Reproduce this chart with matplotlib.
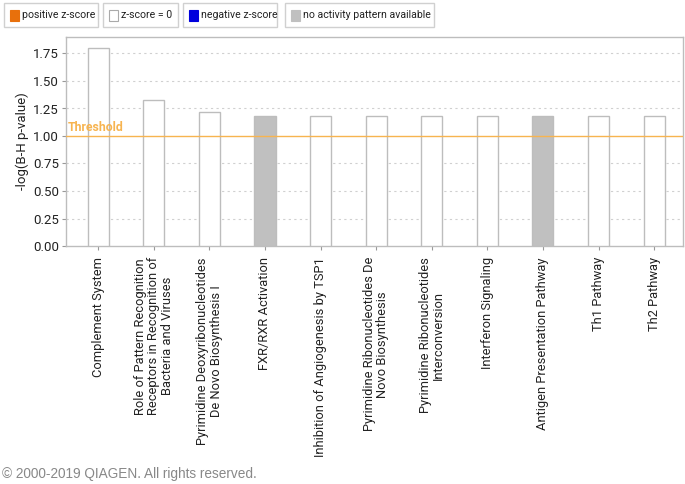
import matplotlib
matplotlib.use("Agg")
import matplotlib.pyplot as plt
from matplotlib.patches import Rectangle

categories = [
    "Complement System",
    "Role of Pattern Recognition\nReceptors in Recognition of\nBacteria and Viruses",
    "Pyrimidine Deoxyribonucleotides\nDe Novo Biosynthesis I",
    "FXR/RXR Activation",
    "Inhibition of Angiogenesis by TSP1",
    "Pyrimidine Ribonucleotides De\nNovo Biosynthesis",
    "Pyrimidine Ribonucleotides\nInterconversion",
    "Interferon Signaling",
    "Antigen Presentation Pathway",
    "Th1 Pathway",
    "Th2 Pathway",
]
values = [1.80, 1.33, 1.22, 1.18, 1.18, 1.18, 1.18, 1.18, 1.18, 1.18, 1.18]
status = ["zero", "zero", "zero", "na", "zero", "zero", "zero", "zero", "na", "zero", "zero"]
threshold = 1.0
yticks = [0.00, 0.25, 0.50, 0.75, 1.00, 1.25, 1.50, 1.75]

legend_labels = ["positive z-score", "z-score = 0", "negative z-score", "no activity pattern available"]
legend_colors = ["#E8700C", "white", "#0000DD", "#C0C0C0"]

fill = {"zero": "white", "na": "#C0C0C0", "pos": "#E8700C", "neg": "#0000DD"}

FONT = "Roboto"
W, H = 685, 484
fig = plt.figure(figsize=(W / 100, H / 100), dpi=100)
ax = fig.add_axes([66 / W, 1 - 246 / H, (683 - 66) / W, (246 - 37) / H])

x = list(range(len(categories)))
ax.bar([i + 0.03 for i in x], values, width=0.38, color=[fill[s] for s in status],
       edgecolor="#BDBDBD", linewidth=1.0, zorder=3)
ax.set_xlim(-0.55, len(categories) - 0.45)
ax.set_ylim(0, 1.9)
ax.set_yticks(yticks)
ax.set_yticklabels([f"{v:.2f}" for v in yticks], fontsize=9.5, color="#222222",
                   family=FONT)
for v in yticks[1:]:
    if v != threshold:
        ax.axhline(v, color="#D0D0D0", linestyle=(0, (2, 3)), linewidth=0.8, zorder=1)
ax.axhline(threshold, color="#F7B450", linewidth=1.0, zorder=4)
ax.text(-0.52, threshold + 0.015, "Threshold", color="#F7B450", fontsize=8.8,
        fontweight="bold", va="bottom", ha="left", zorder=5, family=FONT)

ax.set_xticks([i + 0.03 for i in x])
ax.set_xticklabels(categories, rotation=90, fontsize=9.3, ha="center", va="top",
                   multialignment="center", color="#222222", family=FONT,
                   linespacing=1.05)
ax.tick_params(axis="x", length=3, color="#999999", pad=5)
ax.tick_params(axis="y", length=3, color="#999999", pad=2)
for sp in ax.spines.values():
    sp.set_color("#BDBDBD")
    sp.set_linewidth(1.0)
ax.set_ylabel("-log(B-H p-value)", fontsize=9.5, color="#222222", labelpad=3,
              family=FONT)

# legend boxes at the top
boxes = [(4, 98), (103, 178), (183, 277), (285, 434)]
for (x0, x1), lab, col in zip(boxes, legend_labels, legend_colors):
    fig.patches.append(Rectangle((x0 / W, 1 - 27 / H), (x1 - x0) / W, 24 / H,
                                 transform=fig.transFigure, facecolor="white",
                                 edgecolor="#D0D0D0", linewidth=1.0))
    fig.patches.append(Rectangle(((x0 + 6) / W, 1 - 20.5 / H), 9 / W, 10 / H,
                                 transform=fig.transFigure, facecolor=col,
                                 edgecolor="#AAAAAA" if col == "white" else col,
                                 linewidth=0.8))
    fig.text((x0 + 18) / W, 1 - 15 / H, lab, fontsize=7.6, va="center", ha="left",
             color="#222222", family=FONT)

fig.text(2 / W, 1 - 474 / H, "\u00a9 2000-2019 QIAGEN. All rights reserved.",
         fontsize=9.8, color="#888888", family="Liberation Sans", va="center", ha="left")

fig.savefig("out.png", dpi=100)
